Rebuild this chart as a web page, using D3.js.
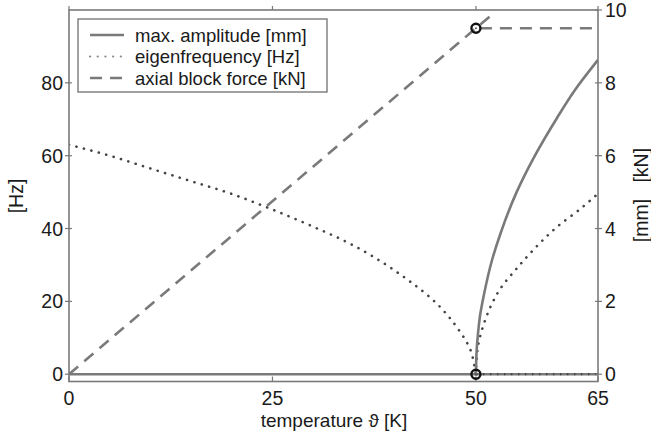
<!DOCTYPE html>
<html><head><meta charset="utf-8">
<script src="https://cdn.jsdelivr.net/npm/d3@7"></script>
<style>body{margin:0;background:#fff}svg text{font-family:"Liberation Sans",Arial,sans-serif;fill:#1a1a1a}</style>
</head><body><svg id="c" width="651" height="432"></svg>
<script>
// temperature [K]
const xTicks = [0, 25, 50, 65];
const hzTicks = [0, 20, 40, 60, 80];
const rTicks = [0, 2, 4, 6, 8, 10];
// eigenfrequency [Hz], stable branch
const freqT1 = [0, 5, 10, 15, 20, 25, 30, 35, 40, 42, 44, 46, 48, 49, 49.5, 50];
const freqV1 = [63, 60, 56.5, 53, 49.5, 45.2, 40.5, 35.3, 28.5, 25.3, 21.8, 17.5, 11.8, 8.2, 5.5, 0];
// eigenfrequency [Hz], post-buckling branch
const freqT2 = [50, 50.25, 50.5, 51, 52, 53, 55, 57, 60, 63, 65];
const freqV2 = [0, 7.5, 10.2, 14, 19.5, 23.5, 29, 34, 40.5, 45.7, 49.6];
// max. amplitude [mm]
const ampT = [0, 50, 50.1, 50.25, 50.5, 51, 52, 53, 55, 57, 60, 62, 65];
const ampV = [0, 0, 0.7, 1.1, 1.6, 2.2, 3.15, 3.85, 5.0, 5.9, 7.05, 7.75, 8.63];
// axial block force [kN]
const forceT1 = [0, 52];
const forceV1 = [0, 9.88];
const forceT2 = [50, 65];
const forceV2 = [9.5, 9.5];
// zero branches
const zeroT = [0, 65];
const zeroT2 = [50, 65];
// markers (temperature, value in right-axis units)
const markT = [50, 50];
const markV = [9.5, 0];

const svg = d3.select("#c");
const L = 69, R = 598, T = 10, B = 381.5;
const FS = 19.5;
const x = d3.scaleLinear().domain([0, 65]).range([L, R]);
const yL = d3.scaleLinear().domain([-2, 100]).range([B, T]);
const yR = d3.scaleLinear().domain([-0.2, 10]).range([B, T]);
const grey = "#7a7a7a";

const defs = svg.append("defs");
defs.append("clipPath").attr("id", "clip").append("rect")
  .attr("x", L).attr("y", T).attr("width", R - L).attr("height", B - T);

const g = svg.append("g").attr("clip-path", "url(#clip)");
const lineL = d3.line().x(d => x(d[0])).y(d => yL(d[1]));
const lineR = d3.line().x(d => x(d[0])).y(d => yR(d[1]));
const zip = (a, b) => a.map((v, i) => [v, b[i]]);

// zero solid line
g.append("path").attr("d", lineR(zip(zeroT, [0, 0]))).attr("fill", "none")
  .attr("stroke", grey).attr("stroke-width", 2.5);
// zero dotted branch
g.append("path").attr("d", lineR(zip(zeroT2, [0, 0]))).attr("fill", "none")
  .attr("stroke", "#444").attr("stroke-width", 2.2).attr("stroke-dasharray", "1.5,5.5");
// force dashed
g.append("path").attr("d", lineR(zip(forceT1, forceV1))).attr("fill", "none")
  .attr("stroke", grey).attr("stroke-width", 2.6).attr("stroke-dasharray", "12,8");
g.append("path").attr("d", lineR(zip(forceT2, forceV2))).attr("fill", "none")
  .attr("stroke", grey).attr("stroke-width", 2.6).attr("stroke-dasharray", "12,8").attr("stroke-dashoffset", -4);
// eigenfrequency dotted
const dotStyle = p => p.attr("fill", "none").attr("stroke", "#444").attr("stroke-width", 2.6)
  .attr("stroke-linecap", "round").attr("stroke-dasharray", "0.1,7.6");
g.append("path").attr("d", lineL.curve(d3.curveMonotoneX)(zip(freqT1, freqV1))).call(dotStyle);
g.append("path").attr("d", d3.line().x(d => x(d[0])).y(d => yL(d[1])).curve(d3.curveMonotoneY)(zip(freqT2, freqV2))).call(dotStyle);
// amplitude solid
g.append("path").attr("d", d3.line().x(d => x(d[0])).y(d => yR(d[1])).curve(d3.curveMonotoneY)(zip(ampT.slice(1), ampV.slice(1))))
  .attr("fill", "none").attr("stroke", grey).attr("stroke-width", 2.6);

// frame
svg.append("rect").attr("x", L).attr("y", T).attr("width", R - L).attr("height", B - T)
  .attr("fill", "none").attr("stroke", grey).attr("stroke-width", 1.6);

// left axis
hzTicks.forEach(v => {
  svg.append("line").attr("x1", L - 4).attr("x2", L + 3).attr("y1", yL(v)).attr("y2", yL(v)).attr("stroke", grey).attr("stroke-width", 1.2);
  svg.append("text").attr("x", L - 6).attr("y", yL(v)).attr("dy", "0.36em").attr("text-anchor", "end")
    .attr("font-size", FS).text(v);
});
// right axis
rTicks.forEach(v => {
  svg.append("line").attr("x1", R - 3).attr("x2", R + 4).attr("y1", yR(v)).attr("y2", yR(v)).attr("stroke", grey).attr("stroke-width", 1.2);
  svg.append("text").attr("x", R + 7).attr("y", yR(v)).attr("dy", "0.36em").attr("text-anchor", "start")
    .attr("font-size", FS).text(v);
});
// x axis
xTicks.forEach(v => {
  svg.append("line").attr("x1", x(v)).attr("x2", x(v)).attr("y1", B).attr("y2", B - 5).attr("stroke", grey).attr("stroke-width", 1.2);
  svg.append("line").attr("x1", x(v)).attr("x2", x(v)).attr("y1", T).attr("y2", T - 4).attr("stroke", grey).attr("stroke-width", 1.2);
  svg.append("text").attr("x", x(v)).attr("y", 405).attr("text-anchor", "middle")
    .attr("font-size", FS).text(v);
});

// markers
markT.forEach((t, i) => {
  svg.append("circle").attr("cx", x(t)).attr("cy", yR(markV[i])).attr("r", 4.5)
    .attr("fill", "none").attr("stroke", "#111").attr("stroke-width", 2.4);
  svg.append("circle").attr("cx", x(t)).attr("cy", yR(markV[i])).attr("r", 1)
    .attr("fill", "#555");
});

// axis labels
svg.append("text").attr("x", 334).attr("y", 427).attr("text-anchor", "middle").attr("font-size", 19)
  .text("temperature ϑ [K]");
svg.append("text").attr("transform", "translate(23,196) rotate(-90)").attr("text-anchor", "middle")
  .attr("font-size", FS).text("[Hz]");
svg.append("text").attr("transform", "translate(648,195) rotate(-90)").attr("text-anchor", "middle")
  .attr("font-size", FS).attr("xml:space", "preserve").text("[mm]   [kN]");

// legend
const lg = svg.append("g");
lg.append("rect").attr("x", 78).attr("y", 19).attr("width", 249).attr("height", 73)
  .attr("fill", "#fff").attr("stroke", grey).attr("stroke-width", 1.4);
const items = [
  {label: "max. amplitude [mm]", dash: null, color: grey, w: 2.6},
  {label: "eigenfrequency [Hz]", dash: "0.1,7.6", color: "#888", w: 2.2},
  {label: "axial block force [kN]", dash: "12,8", color: grey, w: 2.6}
];
items.forEach((it, i) => {
  const yy = 35 + i * 21.5;
  const ln = lg.append("line").attr("x1", 90).attr("x2", 124).attr("y1", yy).attr("y2", yy)
    .attr("stroke", it.color).attr("stroke-width", it.w).attr("stroke-linecap", it.dash && it.dash.startsWith("0.1") ? "round" : "butt");
  if (it.dash) ln.attr("stroke-dasharray", it.dash);
  lg.append("text").attr("x", 135).attr("y", yy).attr("dy", "0.36em").attr("font-size", 18.5).text(it.label);
});
</script></body></html>
